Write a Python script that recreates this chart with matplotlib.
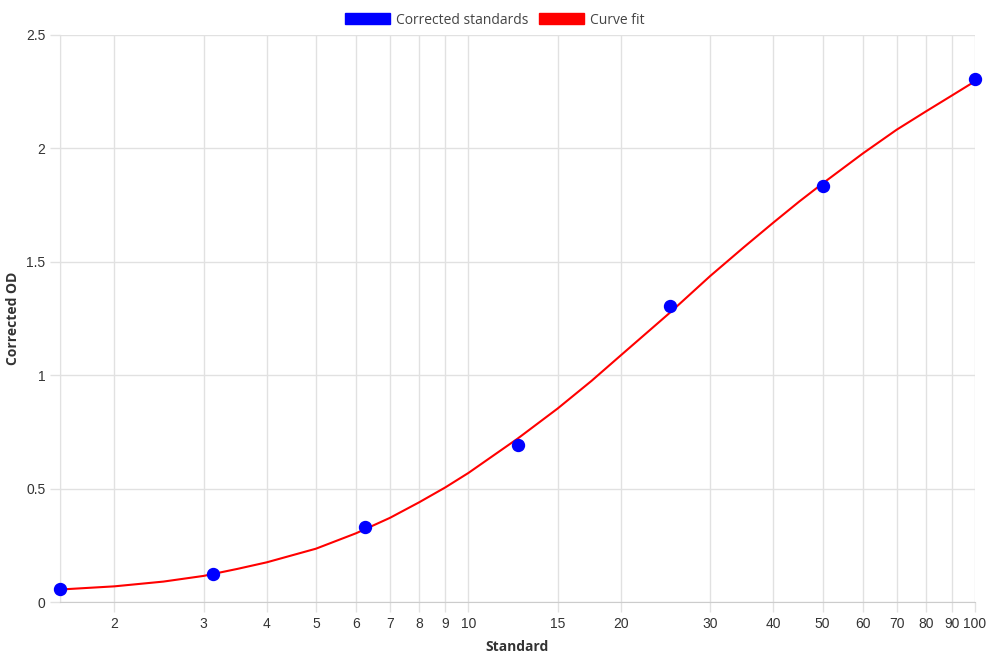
import matplotlib.pyplot as plt
from matplotlib.patches import Patch
from matplotlib.ticker import FixedLocator, NullLocator

# standards (points)
std_x = [1.5625, 3.125, 6.25, 12.5, 25, 50, 100]
std_y = [0.057, 0.124, 0.33, 0.693, 1.304, 1.835, 2.305]

# curve fit
fit_x = [1.5625, 2, 2.5, 3, 3.5, 4, 5, 6, 7, 8, 9, 10, 12.5, 15, 17.5, 20, 25, 30,
         35, 40, 45, 50, 60, 70, 80, 90, 100]
fit_y = [0.055, 0.069, 0.09, 0.115, 0.146, 0.175, 0.235, 0.303, 0.371, 0.44, 0.505,
         0.569, 0.72, 0.853, 0.975, 1.088, 1.276, 1.437, 1.565, 1.673, 1.766, 1.845,
         1.977, 2.082, 2.163, 2.233, 2.296]

x_ticks = [2, 3, 4, 5, 6, 7, 8, 9, 10, 15, 20, 30, 40, 50, 60, 70, 80, 90, 100]
y_ticks = [0, 0.5, 1, 1.5, 2, 2.5]
y_labels = ["0", "0.5", "1", "1.5", "2", "2.5"]

fig = plt.figure(figsize=(9.9, 6.6), dpi=100)
ax = fig.add_axes([60 / 990, 1 - 602 / 660, 915 / 990, 567 / 660])

ax.plot(fit_x, fit_y, color="#ff0000", lw=1.5, zorder=3)
ax.plot(std_x, std_y, "o", color="#0000ff", ms=8.6, zorder=4, clip_on=False)

ax.set_xscale("log")
ax.set_xlim(1.5625, 100)
ax.set_ylim(0, 2.5)
ax.xaxis.set_major_locator(FixedLocator(x_ticks))
ax.xaxis.set_minor_locator(NullLocator())
ax.set_xticklabels([str(t) for t in x_ticks])
ax.set_yticks(y_ticks)
ax.set_yticklabels(y_labels)

grid_c = "#e1e1e1"
ax.grid(True, color=grid_c, lw=1)
ax.axvline(1.5625, color=grid_c, lw=1, zorder=0)
ax.set_axisbelow(True)
for s in ["top", "right"]:
    ax.spines[s].set_visible(False)
ax.spines["left"].set_color(grid_c)
ax.spines["bottom"].set_color("#cccccc")
ax.tick_params(colors=grid_c, labelcolor="#333333", length=7, width=1, labelsize=10)
for lab in ax.get_xticklabels() + ax.get_yticklabels():
    lab.set_family("Liberation Sans")

ax.set_xlabel("Standard", fontsize=10, fontweight="bold", family="Open Sans", color="#333333", labelpad=7)
ax.set_ylabel("Corrected OD", fontsize=10, fontweight="bold", family="Open Sans", color="#333333")
ax.yaxis.set_label_coords(-0.044, 0.5)

handles = [Patch(facecolor="#0000ff", edgecolor="#0000ff", label="Corrected standards"),
           Patch(facecolor="#ff0000", edgecolor="#ff0000", label="Curve fit")]
leg = fig.legend(handles=handles, loc="upper center", bbox_to_anchor=(0.5, 1.0), ncol=2,
                 frameon=False, prop={"family": "Open Sans", "size": 10},
                 handlelength=3.2, handleheight=0.9, handletextpad=0.45, columnspacing=0.8)
for t in leg.get_texts():
    t.set_color("#444444")

fig.savefig("out.png", dpi=100)
